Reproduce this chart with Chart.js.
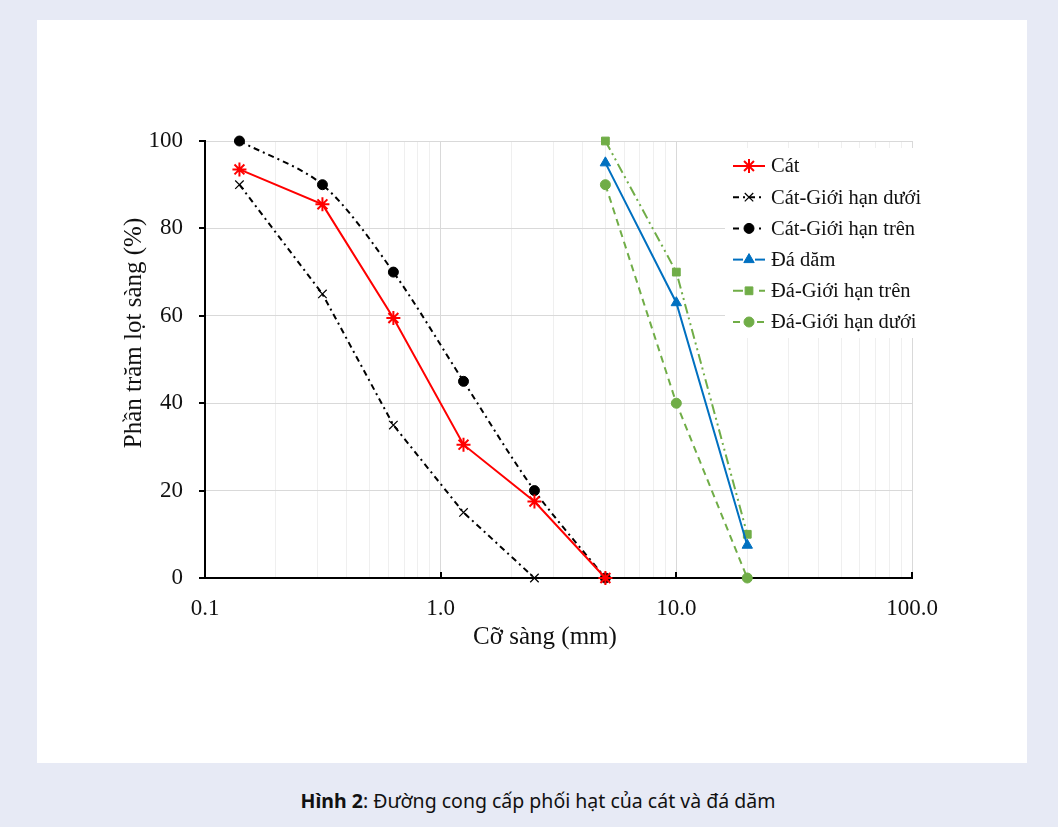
<!DOCTYPE html>
<html lang="vi">
<head>
<meta charset="utf-8">
<title>Hình 2</title>
<script src="https://cdn.jsdelivr.net/npm/chart.js@4.4.1/dist/chart.umd.min.js"></script>
<style>
  html, body { margin: 0; padding: 0; }
  body { width: 1058px; height: 827px; background: #e7eaf5; position: relative; overflow: hidden; }
  .panel { position: absolute; left: 37px; top: 20px; width: 990px; height: 743px; background: #fff; }
  .caption { position: absolute; left: 38px; width: 1000px; top: 787px; text-align: center;
             font-family: "Noto Sans", sans-serif; font-size: 19.5px; color: #111; }
  .caption b { font-weight: 700; }
</style>
</head>
<body>
<div class="panel"><canvas id="gradingChart" width="990" height="743"></canvas></div>
<div class="caption"><b>Hình 2</b>: Đường cong cấp phối hạt của cát và đá dăm</div>
<script>
// sieve sizes (mm)
const sieveSand = [0.14, 0.315, 0.63, 1.25, 2.5, 5];
const sieveStone = [5, 10, 20];

// percent passing
const sand = [93.5, 85.5, 59.5, 30.5, 17.5, 0];
const sandLower = [90, 65, 35, 15, 0];
const sandUpper = [100, 90, 70, 45, 20, 0];
const stone = [95, 63, 7.5];
const stoneUpper = [100, 70, 10];
const stoneLower = [90, 40, 0];

const xDecades = [0.1, 1, 10, 100];
const yTicks = [0, 20, 40, 60, 80, 100];

const seriesNames = ['Cát', 'Cát-Giới hạn dưới', 'Cát-Giới hạn trên', 'Đá dăm', 'Đá-Giới hạn trên', 'Đá-Giới hạn dưới'];
const xTitle = 'Cỡ sàng (mm)';
const yTitle = 'Phần trăm lọt sàng (%)';

function toPoints(xs, ys) {
    return ys.map((y, i) => ({ x: xs[i], y: y }));
}

const serif = '"Liberation Serif", "Times New Roman", serif';

// log axis ticks: 1..9 in every decade
function buildLogTicks() {
    const ticks = [];
    for (let d = 0; d < xDecades.length - 1; d++) {
        for (let m = 1; m <= 9; m++) {
            ticks.push({ value: xDecades[d] * m, major: m === 1 });
        }
    }
    ticks.push({ value: xDecades[xDecades.length - 1], major: true });
    return ticks;
}

// legend drawn like the office chart: short line with marker in the middle
const lineLegend = {
    id: 'lineLegend',
    afterDraw(chart) {
        const ctx = chart.ctx;
        const x0 = 696, lineW = 32, textX = 734, y0 = 146, step = 31.2;
        ctx.save();
        ctx.fillStyle = '#fff';
        ctx.fillRect(688, 128, 210, 190);
        chart.data.datasets.forEach((ds, i) => {
            const y = y0 + i * step;
            ctx.strokeStyle = ds.borderColor;
            ctx.lineWidth = ds.borderWidth;
            ctx.setLineDash(ds.borderDash || []);
            ctx.beginPath();
            ctx.moveTo(x0, y);
            ctx.lineTo(x0 + lineW, y);
            ctx.stroke();
            ctx.setLineDash([]);
            if (ds.pointStyle === 'circle' || ds.pointStyle === 'rect' || ds.pointStyle === 'triangle') {
                ctx.fillStyle = '#fff';
                ctx.fillRect(x0 + lineW / 2 - 6, y - 6, 12, 12);
            }
            ctx.fillStyle = ds.pointBackgroundColor;
            ctx.strokeStyle = ds.pointBorderColor;
            ctx.lineWidth = ds.pointBorderWidth;
            Chart.helpers.drawPoint(ctx, { pointStyle: ds.pointStyle, radius: ds.pointRadius, rotation: 0, borderWidth: ds.pointBorderWidth }, x0 + lineW / 2, y);
            ctx.fillStyle = '#111';
            ctx.font = '20.5px ' + serif;
            ctx.textBaseline = 'middle';
            ctx.textAlign = 'left';
            ctx.fillText(seriesNames[i], textX, y + 1);
        });
        ctx.restore();
    }
};

// tick marks (y outward, x inward) and the two axis titles
const axisMarks = {
    id: 'axisMarks',
    afterDatasetsDraw(chart) {
        const ctx = chart.ctx;
        const xs = chart.scales.x, ys = chart.scales.y;
        const area = chart.chartArea;
        ctx.save();
        ctx.strokeStyle = '#000';
        ctx.lineWidth = 2;
        ctx.beginPath();
        yTicks.forEach(v => {
            const py = Math.round(ys.getPixelForValue(v));
            ctx.moveTo(area.left - 6, py);
            ctx.lineTo(area.left, py);
        });
        xDecades.forEach(v => {
            const px = Math.round(xs.getPixelForValue(v));
            ctx.moveTo(px, area.bottom);
            ctx.lineTo(px, area.bottom - 6);
        });
        ctx.stroke();

        ctx.fillStyle = '#111';
        ctx.font = '25px ' + serif;
        ctx.textAlign = 'center';
        ctx.textBaseline = 'middle';
        ctx.fillText(xTitle, 508, 617);
        ctx.translate(97, 313);
        ctx.rotate(-Math.PI / 2);
        ctx.fillText(yTitle, 0, 0);
        ctx.restore();
    }
};

const ctx = document.getElementById('gradingChart');
new Chart(ctx, {
    type: 'line',
    data: {
        datasets: [{
            label: seriesNames[0],
            data: toPoints(sieveSand, sand),
            borderColor: '#ff0000',
            borderWidth: 2,
            pointStyle: 'star',
            pointRadius: 7,
            pointBorderWidth: 2,
            pointBackgroundColor: '#ff0000',
            pointBorderColor: '#ff0000'
        }, {
            label: seriesNames[1],
            data: toPoints(sieveSand, sandLower),
            borderColor: '#000',
            borderWidth: 2,
            borderDash: [6, 4, 2, 4],
            pointStyle: 'crossRot',
            pointRadius: 6,
            pointBorderWidth: 1.2,
            pointBackgroundColor: '#000',
            pointBorderColor: '#000'
        }, {
            label: seriesNames[2],
            data: toPoints(sieveSand, sandUpper),
            borderColor: '#000',
            borderWidth: 2,
            borderDash: [6, 4, 2, 4],
            tension: 0.3,
            pointStyle: 'circle',
            pointRadius: 5,
            pointBorderWidth: 1,
            pointBackgroundColor: '#000',
            pointBorderColor: '#000'
        }, {
            label: seriesNames[3],
            data: toPoints(sieveStone, stone),
            borderColor: '#0070c0',
            borderWidth: 2,
            pointStyle: 'triangle',
            pointRadius: 6,
            pointBorderWidth: 1,
            pointBackgroundColor: '#0070c0',
            pointBorderColor: '#0070c0'
        }, {
            label: seriesNames[4],
            data: toPoints(sieveStone, stoneUpper),
            borderColor: '#70ad47',
            borderWidth: 2,
            borderDash: [10, 4, 2, 4, 2, 4],
            pointStyle: 'rect',
            pointRadius: 5.5,
            pointBorderWidth: 1,
            pointBackgroundColor: '#70ad47',
            pointBorderColor: '#70ad47'
        }, {
            label: seriesNames[5],
            data: toPoints(sieveStone, stoneLower),
            borderColor: '#70ad47',
            borderWidth: 2,
            borderDash: [7, 5],
            pointStyle: 'circle',
            pointRadius: 5,
            pointBorderWidth: 1,
            pointBackgroundColor: '#70ad47',
            pointBorderColor: '#70ad47'
        }]
    },
    options: {
        responsive: false,
        animation: false,
        clip: false,
        layout: { padding: { left: 0, top: 121, right: 115, bottom: 0 } },
        plugins: {
            legend: { display: false },
            tooltip: { enabled: false }
        },
        scales: {
            x: {
                type: 'logarithmic',
                min: 0.1,
                max: 100,
                afterBuildTicks(scale) { scale.ticks = buildLogTicks(); },
                afterFit(scale) { scale.height = 185; },
                ticks: {
                    autoSkip: false,
                    maxRotation: 0,
                    padding: 17,
                    color: '#111',
                    font: { family: serif, size: 23 },
                    callback(value) {
                        return xDecades.includes(value) ? value.toFixed(1) : '';
                    }
                },
                grid: {
                    drawTicks: false,
                    color(c) { return c.tick && c.tick.major ? '#d9d9d9' : '#efefef'; },
                    lineWidth: 1
                },
                border: { color: '#000', width: 2 }
            },
            y: {
                min: 0,
                max: 100,
                afterBuildTicks(scale) { scale.ticks = yTicks.map(v => ({ value: v })); },
                afterFit(scale) { scale.width = 168; },
                ticks: {
                    padding: 22,
                    color: '#111',
                    font: { family: serif, size: 23 }
                },
                grid: { drawTicks: false, color: '#d9d9d9', lineWidth: 1 },
                border: { color: '#000', width: 2 }
            }
        }
    },
    plugins: [axisMarks, lineLegend]
});
</script>
</body>
</html>
